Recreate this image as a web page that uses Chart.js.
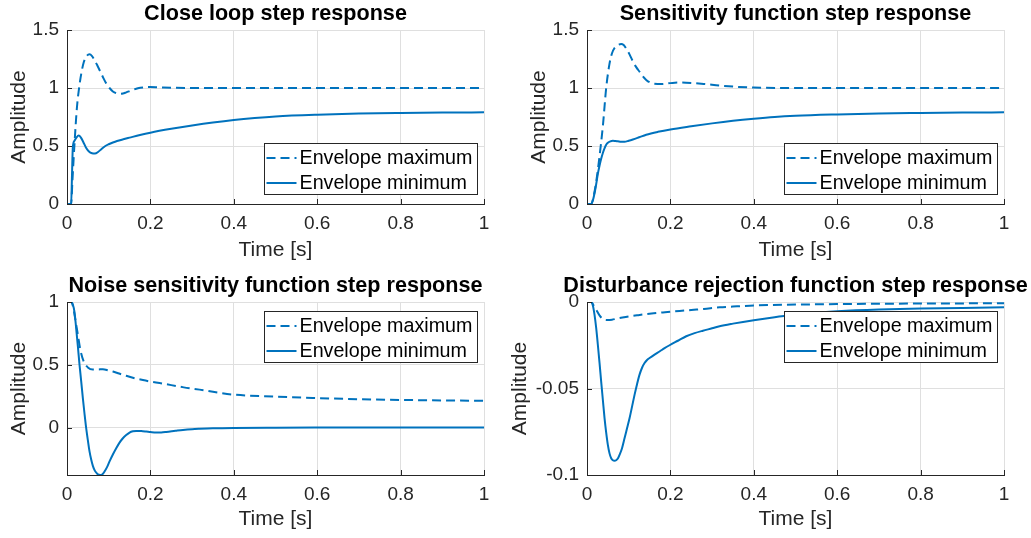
<!DOCTYPE html>
<html><head><meta charset="utf-8">
<script src="https://cdn.jsdelivr.net/npm/chart.js@4.4.0/dist/chart.umd.min.js"></script>
<style>
html,body{margin:0;padding:0;background:#fff}
body{width:1031px;height:538px;overflow:hidden;position:relative}
canvas{position:absolute}
</style></head><body>
<canvas id="c1" width="516" height="269" style="left:0px;top:0px"></canvas>
<canvas id="c2" width="531" height="269" style="left:500px;top:0px"></canvas>
<canvas id="c3" width="516" height="269" style="left:0px;top:269px"></canvas>
<canvas id="c4" width="531" height="269" style="left:500px;top:269px"></canvas>
<script>
// ---------- data ----------
const timeTicks = [0, 0.2, 0.4, 0.6, 0.8, 1];
const stepTicks = [0, 0.5, 1, 1.5];
const noiseTicks = [0, 0.5, 1];
const distTicks = [-0.1, -0.05, 0];
const seriesLabels = ['Envelope maximum', 'Envelope minimum'];
const titles = ['Close loop step response', 'Sensitivity function step response',
  'Noise sensitivity function step response', 'Disturbance rejection function step response'];

const closeMaxT = [0, 0.01, 0.013, 0.018, 0.024, 0.029, 0.034, 0.04, 0.047, 0.054, 0.06, 0.066, 0.072, 0.078, 0.086, 0.094, 0.102, 0.11, 0.118, 0.126, 0.134, 0.142, 0.155, 0.17, 0.185, 0.2, 0.22, 0.25, 0.3, 0.4, 0.5, 0.6, 0.7, 0.8, 0.9, 1.0];
const closeMaxY = [0, 0, 0.2, 0.52, 0.84, 1.0, 1.12, 1.22, 1.275, 1.29, 1.275, 1.24, 1.2, 1.155, 1.095, 1.04, 1.0, 0.97, 0.955, 0.95, 0.952, 0.962, 0.98, 0.998, 1.006, 1.008, 1.006, 1.003, 1.0, 1.0, 1.0, 1.0, 1.0, 1.0, 1.0, 1.0];
const closeMinT = [0, 0.01, 0.012, 0.014, 0.018, 0.023, 0.028, 0.033, 0.039, 0.045, 0.052, 0.06, 0.067, 0.075, 0.083, 0.092, 0.1, 0.11, 0.12, 0.135, 0.15, 0.175, 0.2, 0.25, 0.3, 0.35, 0.4, 0.45, 0.5, 0.6, 0.7, 0.8, 0.9, 1.0];
const closeMinY = [0, 0, 0.25, 0.49, 0.545, 0.575, 0.59, 0.575, 0.535, 0.49, 0.455, 0.437, 0.435, 0.45, 0.475, 0.5, 0.515, 0.53, 0.543, 0.558, 0.572, 0.595, 0.615, 0.648, 0.677, 0.703, 0.725, 0.742, 0.755, 0.77, 0.78, 0.785, 0.788, 0.79];

const sensMaxT = [0, 0.01, 0.016, 0.022, 0.03, 0.038, 0.046, 0.054, 0.06, 0.066, 0.074, 0.082, 0.088, 0.094, 0.102, 0.11, 0.118, 0.126, 0.134, 0.142, 0.15, 0.16, 0.18, 0.2, 0.22, 0.25, 0.28, 0.32, 0.36, 0.4, 0.5, 0.6, 0.8, 1.0];
const sensMaxY = [0, 0, 0.07, 0.19, 0.41, 0.67, 1.0, 1.21, 1.3, 1.345, 1.37, 1.38, 1.37, 1.34, 1.29, 1.23, 1.18, 1.14, 1.1, 1.07, 1.05, 1.038, 1.035, 1.042, 1.047, 1.043, 1.035, 1.02, 1.01, 1.004, 1.0, 1.0, 1.0, 1.0];
const sensMinT = [0, 0.01, 0.014, 0.018, 0.022, 0.026, 0.03, 0.034, 0.038, 0.042, 0.046, 0.05, 0.056, 0.062, 0.068, 0.074, 0.082, 0.09, 0.1, 0.11, 0.125, 0.142, 0.17, 0.2, 0.25, 0.3, 0.35, 0.4, 0.45, 0.5, 0.6, 0.7, 0.8, 0.9, 1.0];
const sensMinY = [0, 0, 0.03, 0.09, 0.17, 0.26, 0.33, 0.39, 0.44, 0.48, 0.51, 0.527, 0.54, 0.545, 0.543, 0.54, 0.536, 0.536, 0.545, 0.556, 0.575, 0.597, 0.622, 0.643, 0.67, 0.695, 0.717, 0.735, 0.75, 0.76, 0.772, 0.781, 0.785, 0.788, 0.79];

const noiseMaxT = [0, 0.01, 0.014, 0.018, 0.022, 0.026, 0.032, 0.04, 0.05, 0.062, 0.075, 0.086, 0.1, 0.11, 0.125, 0.142, 0.16, 0.182, 0.2, 0.222, 0.25, 0.28, 0.318, 0.35, 0.4, 0.5, 0.6, 0.7, 0.8, 0.9, 1.0];
const noiseMaxY = [1, 1, 0.97, 0.9, 0.82, 0.74, 0.62, 0.527, 0.479, 0.462, 0.463, 0.465, 0.455, 0.447, 0.43, 0.412, 0.395, 0.378, 0.366, 0.354, 0.338, 0.32, 0.302, 0.285, 0.262, 0.246, 0.235, 0.226, 0.22, 0.216, 0.213];
const noiseMinT = [0, 0.01, 0.014, 0.018, 0.022, 0.026, 0.03, 0.034, 0.038, 0.042, 0.046, 0.05, 0.054, 0.058, 0.062, 0.067, 0.072, 0.076, 0.08, 0.085, 0.09, 0.096, 0.102, 0.11, 0.118, 0.126, 0.134, 0.142, 0.15, 0.158, 0.166, 0.178, 0.19, 0.2, 0.214, 0.226, 0.238, 0.26, 0.278, 0.3, 0.318, 0.35, 0.4, 0.5, 0.6, 0.8, 1.0];
const noiseMinY = [1, 1, 0.98, 0.92, 0.79, 0.65, 0.5, 0.37, 0.234, 0.11, -0.005, -0.1, -0.19, -0.255, -0.305, -0.345, -0.366, -0.376, -0.378, -0.372, -0.35, -0.315, -0.27, -0.215, -0.165, -0.12, -0.085, -0.06, -0.04, -0.03, -0.027, -0.028, -0.032, -0.036, -0.04, -0.039, -0.035, -0.026, -0.019, -0.013, -0.01, -0.006, -0.003, -0.001, 0, 0, 0];

const distMaxT = [0, 0.01, 0.016, 0.022, 0.03, 0.038, 0.05, 0.06, 0.07, 0.085, 0.102, 0.12, 0.142, 0.16, 0.182, 0.2, 0.222, 0.25, 0.28, 0.318, 0.36, 0.4, 0.5, 0.6, 0.7, 0.8, 0.9, 1.0];
const distMaxY = [0, 0, -0.002, -0.0044, -0.0077, -0.0098, -0.0104, -0.0102, -0.0097, -0.009, -0.0083, -0.0077, -0.007, -0.0065, -0.006, -0.0056, -0.0052, -0.0046, -0.004, -0.0031, -0.0025, -0.002, -0.0015, -0.0012, -0.001, -0.0009, -0.0008, -0.0007];
const distMinT = [0, 0.01, 0.014, 0.018, 0.022, 0.026, 0.03, 0.034, 0.038, 0.042, 0.046, 0.05, 0.054, 0.058, 0.062, 0.066, 0.07, 0.074, 0.078, 0.084, 0.09, 0.096, 0.102, 0.108, 0.114, 0.12, 0.126, 0.132, 0.138, 0.144, 0.15, 0.162, 0.174, 0.186, 0.198, 0.218, 0.238, 0.258, 0.278, 0.3, 0.318, 0.35, 0.4, 0.45, 0.5, 0.55, 0.6, 0.7, 0.8, 0.9, 1.0];
const distMinY = [0, 0, -0.002, -0.0073, -0.015, -0.0247, -0.035, -0.046, -0.0565, -0.067, -0.0755, -0.0826, -0.0875, -0.0903, -0.0915, -0.0918, -0.0915, -0.0905, -0.0884, -0.0845, -0.0788, -0.073, -0.0672, -0.0605, -0.0537, -0.0475, -0.042, -0.038, -0.0353, -0.0335, -0.0324, -0.0304, -0.0286, -0.0267, -0.025, -0.0224, -0.0198, -0.018, -0.0166, -0.0152, -0.014, -0.0125, -0.0105, -0.0088, -0.0074, -0.0062, -0.0054, -0.0044, -0.0038, -0.0034, -0.0031];

// ---------- style ----------
const BLUE = '#0072BD';
const AXC = '#262626';
const GRIDC = 'rgb(223,223,223)';
const FAM = '"Liberation Sans", Arial, Helvetica, sans-serif';

const zip = (t, y) => t.map((v, i) => ({x: v, y: y[i]}));
const fmt = v => String(Math.round(v * 1000) / 1000);

const matlabPlugin = {
  id: 'matlab',
  afterDatasetsDraw(chart, args, opts) {
    const ctx = chart.ctx, a = chart.chartArea;
    const xs = chart.scales.x, ys = chart.scales.y;
    // inward ticks
    ctx.save();
    ctx.strokeStyle = AXC; ctx.lineWidth = 1;
    ctx.beginPath();
    xs.ticks.forEach(t => { const px = Math.round(xs.getPixelForValue(t.value)) + 0.5; ctx.moveTo(px, a.bottom); ctx.lineTo(px, a.bottom - 5); });
    ys.ticks.forEach(t => { const py = Math.round(ys.getPixelForValue(t.value)) + 0.5; ctx.moveTo(a.left, py); ctx.lineTo(a.left + 5, py); });
    ctx.stroke();
    // legend
    ctx.font = '19.7px ' + FAM;
    const ds = chart.data.datasets;
    let tw = 0; ds.forEach(d => { tw = Math.max(tw, ctx.measureText(d.label).width); });
    const bw = Math.round(35 + tw + 5), bh = 51;
    const bx = Math.round(a.right - opts.right - bw) + 0.5;
    const by = Math.round(opts.top != null ? a.top + opts.top : a.bottom - opts.bottom - bh) + 0.5;
    ctx.fillStyle = '#fff'; ctx.fillRect(bx, by, bw, bh);
    ctx.strokeStyle = AXC; ctx.lineWidth = 1; ctx.strokeRect(bx, by, bw, bh);
    ds.forEach((d, i) => {
      const cy = by + 14.5 + i * 25;
      ctx.beginPath(); ctx.strokeStyle = d.borderColor; ctx.lineWidth = d.borderWidth;
      ctx.setLineDash(d.borderDash || []);
      ctx.moveTo(bx + 2, cy); ctx.lineTo(bx + 32, cy); ctx.stroke();
      ctx.setLineDash([]);
      ctx.fillStyle = '#000'; ctx.textAlign = 'left'; ctx.textBaseline = 'middle';
      ctx.fillText(d.label, bx + 35, cy + 1);
    });
    // title
    ctx.font = 'bold 21.6px ' + FAM;
    ctx.fillStyle = '#000'; ctx.textAlign = 'center'; ctx.textBaseline = 'middle';
    ctx.fillText(opts.title, (a.left + a.right) / 2, a.top - 15.5);
    ctx.restore();
  }
};

function makeChart(id, c) {
  const tickFont = {family: FAM, size: 19};
  const labFont = {family: FAM, size: 21};
  return new Chart(document.getElementById(id), {
    type: 'line',
    data: {datasets: [
      {label: seriesLabels[0], data: zip(c.maxT, c.maxY), borderColor: BLUE, borderWidth: 2, borderDash: [9, 5], pointRadius: 0, fill: false, cubicInterpolationMode: 'monotone'},
      {label: seriesLabels[1], data: zip(c.minT, c.minY), borderColor: BLUE, borderWidth: 2, pointRadius: 0, fill: false, cubicInterpolationMode: 'monotone'}
    ]},
    options: {
      responsive: false, animation: false, devicePixelRatio: 1,
      events: [],
      layout: {padding: {left: 0, right: c.padRight, top: c.padTop, bottom: 0}},
      plugins: {legend: {display: false}, tooltip: {enabled: false}, title: {display: false},
        matlab: {title: c.title, right: 7, top: c.legTop, bottom: c.legBottom}},
      scales: {
        x: {type: 'linear', min: 0, max: 1,
          afterFit: s => { s.height = c.xH; },
          afterBuildTicks: s => { s.ticks = timeTicks.map(v => ({value: v})); },
          ticks: {callback: v => fmt(v), font: tickFont, color: AXC, padding: 8, maxRotation: 0, autoSkip: false},
          grid: {color: GRIDC, drawTicks: false, lineWidth: 1},
          border: {color: AXC, width: 1},
          title: {display: true, text: 'Time [s]', font: labFont, color: AXC, padding: {top: 0, bottom: 6}}},
        y: {type: 'linear', min: c.yMin, max: c.yMax,
          afterFit: s => { s.width = c.yW; },
          afterBuildTicks: s => { s.ticks = c.yTicks.map(v => ({value: v})); },
          ticks: {callback: v => fmt(v), font: tickFont, color: AXC, padding: 8, autoSkip: false},
          grid: {color: GRIDC, drawTicks: false, lineWidth: 1},
          border: {color: AXC, width: 1},
          title: {display: true, text: 'Amplitude', font: labFont, color: AXC, padding: {top: c.yTitlePad, bottom: 0}}}
      }
    },
    plugins: [matlabPlugin]
  });
}

makeChart('c1', {title: titles[0], maxT: closeMaxT, maxY: closeMaxY, minT: closeMinT, minY: closeMinY,
  yMin: 0, yMax: 1.5, yTicks: stepTicks, yW: 67, padRight: 32, padTop: 30, xH: 65, yTitlePad: 7, legBottom: 10});
makeChart('c2', {title: titles[1], maxT: sensMaxT, maxY: sensMaxY, minT: sensMinT, minY: sensMinY,
  yMin: 0, yMax: 1.5, yTicks: stepTicks, yW: 87, padRight: 27, padTop: 30, xH: 65, yTitlePad: 27, legBottom: 10});
makeChart('c3', {title: titles[2], maxT: noiseMaxT, maxY: noiseMaxY, minT: noiseMinT, minY: noiseMinY,
  yMin: -0.378, yMax: 1, yTicks: noiseTicks, yW: 67, padRight: 32, padTop: 33, xH: 63, yTitlePad: 7, legTop: 8.5});
makeChart('c4', {title: titles[3], maxT: distMaxT, maxY: distMaxY, minT: distMinT, minY: distMinY,
  yMin: -0.1, yMax: 0, yTicks: distTicks, yW: 87, padRight: 27, padTop: 33, xH: 63, yTitlePad: 8, legTop: 8.5});
</script>
</body></html>
